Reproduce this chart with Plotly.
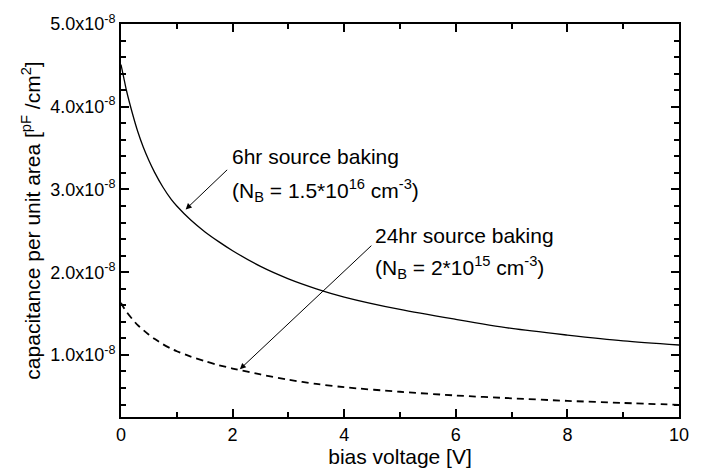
import numpy as np
import plotly.graph_objects as go

# bias voltage [V]
V_6hr = [0, 0.05, 0.1, 0.2, 0.3, 0.4, 0.5, 0.6, 0.75, 0.9, 1.0, 1.25, 1.5, 1.75, 2.0, 2.5, 3.0, 3.5,
         4.0, 5.0, 6.0, 7.0, 8.0, 9.0, 10.0]
# capacitance in units of 1e-8
C_6hr = [4.51, 4.35, 4.19, 3.93, 3.70, 3.51, 3.35, 3.21, 3.03, 2.88, 2.80, 2.63, 2.49, 2.37, 2.26,
         2.07, 1.92, 1.80, 1.70, 1.55, 1.43, 1.32, 1.24, 1.17, 1.12]

V_24hr = [0, 0.05, 0.1, 0.2, 0.3, 0.4, 0.5, 0.6, 0.75, 0.9, 1.0, 1.25, 1.5, 1.75, 2.0, 2.5, 3.0, 3.5,
          4.0, 5.0, 6.0, 7.0, 8.0, 9.0, 10.0]
C_24hr = [1.63, 1.57, 1.52, 1.435, 1.36, 1.30, 1.245, 1.195, 1.13, 1.075, 1.045, 0.98, 0.925, 0.877,
          0.836, 0.765, 0.70, 0.65, 0.61, 0.555, 0.51, 0.476, 0.445, 0.42, 0.397]

y_tickvals = [1e-8, 2e-8, 3e-8, 4e-8, 5e-8]
y_ticktext = ["1.0x10<sup>-8</sup>", "2.0x10<sup>-8</sup>", "3.0x10<sup>-8</sup>",
              "4.0x10<sup>-8</sup>", "5.0x10<sup>-8</sup>"]
x_tickvals = [0, 2, 4, 6, 8, 10]

FONT = "Liberation Sans, Arial, sans-serif"

fig = go.Figure()
fig.add_trace(go.Scatter(x=V_6hr, y=np.array(C_6hr) * 1e-8, mode="lines",
                         line=dict(color="black", width=1.3, shape="spline", smoothing=0.8),
                         showlegend=False))
fig.add_trace(go.Scatter(x=V_24hr, y=np.array(C_24hr) * 1e-8, mode="lines",
                         line=dict(color="black", width=1.8, dash="7px,5px", shape="spline", smoothing=0.8),
                         showlegend=False))

axis_common = dict(showline=True, linecolor="black", linewidth=2, mirror="ticks",
                   ticks="inside", tickcolor="black", tickwidth=1.5, ticklen=8,
                   showgrid=False, zeroline=False,
                   tickfont=dict(family=FONT, size=18, color="black"))

fig.update_xaxes(range=[0, 10], tickmode="array", tickvals=x_tickvals,
                 ticktext=[str(v) for v in x_tickvals],
                 minor=dict(ticks="inside", tickmode="linear", tick0=0, dtick=1, ticklen=5,
                            tickcolor="black", tickwidth=1.5),
                 title=dict(text="bias voltage [V]", font=dict(family=FONT, size=21, color="black"),
                            standoff=4),
                 **axis_common)
fig.update_yaxes(range=[0.25e-8, 5.0e-8], tickmode="array", tickvals=y_tickvals, ticktext=y_ticktext,
                 minor=dict(ticks="inside", tickmode="linear", tick0=0, dtick=0.2e-8, ticklen=5,
                            tickcolor="black", tickwidth=1.5),
                 title=dict(text="capacitance per unit area [<sup>pF</sup> /cm<sup>2</sup>]",
                            font=dict(family=FONT, size=21, color="black"), standoff=4),
                 **axis_common)

# arrows
fig.add_annotation(x=1.159, y=2.759e-8, ax=43, ay=-41, text="", showarrow=True,
                   arrowhead=2, arrowsize=1.2, arrowwidth=1, arrowcolor="black")
fig.add_annotation(x=2.13, y=0.827e-8, ax=133, ay=-125, text="", showarrow=True,
                   arrowhead=2, arrowsize=1.2, arrowwidth=1, arrowcolor="black")

tfont = dict(family=FONT, size=21, color="black")
fig.add_annotation(x=1.95, y=3.40e-8, text="6hr source baking", showarrow=False,
                   xanchor="left", yanchor="middle", font=tfont)
fig.add_annotation(x=1.95, y=2.99e-8, text="(N<sub>B</sub> = 1.5*10<sup>16</sup> cm<sup>-3</sup>)",
                   showarrow=False, xanchor="left", yanchor="middle", font=tfont)
fig.add_annotation(x=4.51, y=2.44e-8, text="24hr source baking", showarrow=False,
                   xanchor="left", yanchor="middle", font=tfont)
fig.add_annotation(x=4.51, y=2.06e-8, text="(N<sub>B</sub> = 2*10<sup>15</sup> cm<sup>-3</sup>)",
                   showarrow=False, xanchor="left", yanchor="middle", font=tfont)

fig.update_layout(width=701, height=475, margin=dict(l=121, r=13, t=21, b=56),
                  plot_bgcolor="white", paper_bgcolor="white",
                  font=dict(family=FONT, color="black"))

fig.write_html("out.html")
